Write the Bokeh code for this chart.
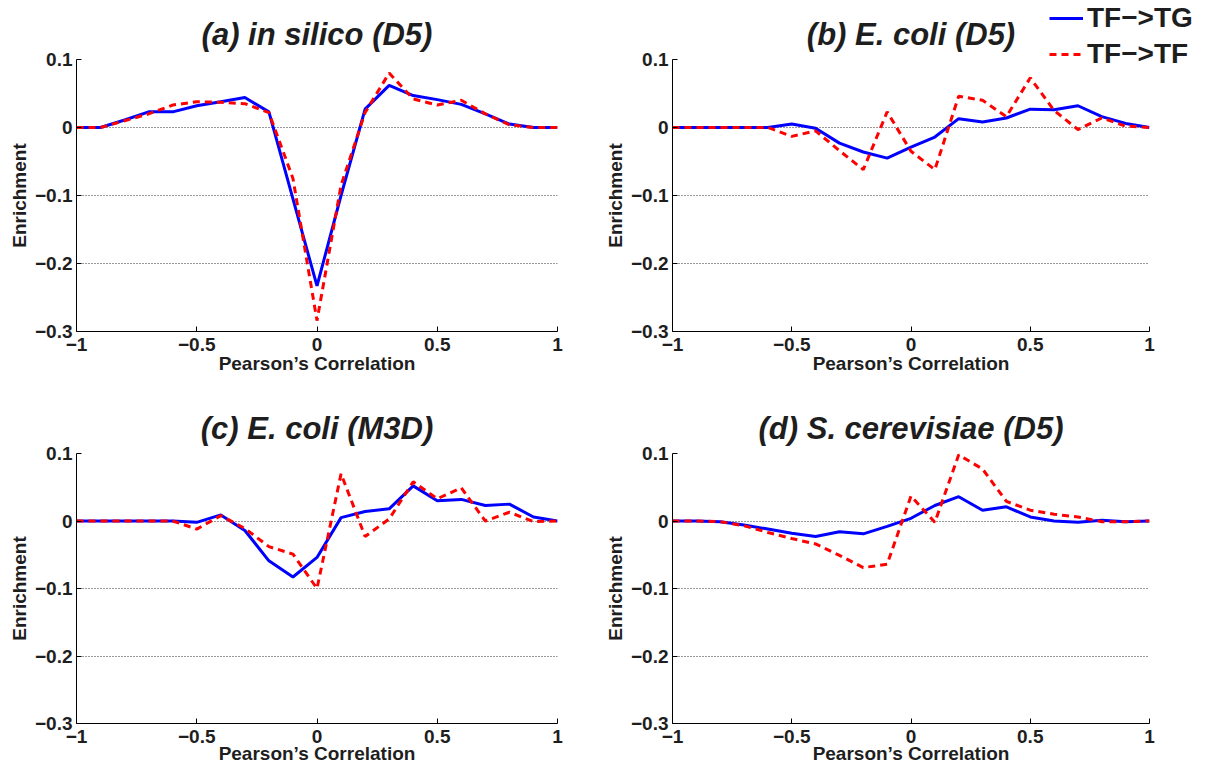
from bokeh.plotting import figure
from bokeh.layouts import column
from bokeh.models import Range1d, FixedTicker, Legend, LegendItem, GridBox
from bokeh.embed import file_html
from bokeh.resources import INLINE

# ---------------- data ----------------
corr = [-1.0, -0.9, -0.8, -0.7, -0.6, -0.5, -0.4, -0.3, -0.2, -0.1, 0.0,
        0.1, 0.2, 0.3, 0.4, 0.5, 0.6, 0.7, 0.8, 0.9, 1.0]

a_tg = [0, 0, 0.011, 0.023, 0.023, 0.032, 0.038, 0.044, 0.023, -0.105, -0.233,
        -0.100, 0.027, 0.062, 0.047, 0.041, 0.034, 0.020, 0.005, 0, 0]
a_tf = [0, 0, 0.010, 0.020, 0.033, 0.038, 0.037, 0.035, 0.022, -0.075, -0.284,
        -0.085, 0.022, 0.080, 0.042, 0.033, 0.040, 0.020, 0.004, 0, 0]

b_tg = [0, 0, 0, 0, 0, 0.005, -0.001, -0.023, -0.036, -0.045, -0.029,
        -0.014, 0.013, 0.008, 0.014, 0.027, 0.026, 0.032, 0.016, 0.006, 0]
b_tf = [0, 0, 0, 0, 0, -0.013, -0.005, -0.034, -0.062, 0.023, -0.035,
        -0.062, 0.046, 0.040, 0.016, 0.073, 0.025, -0.003, 0.014, 0.002, 0]

c_tg = [0, 0, 0, 0, 0, -0.002, 0.009, -0.014, -0.059, -0.083, -0.054,
        0.005, 0.014, 0.018, 0.052, 0.030, 0.032, 0.023, 0.025, 0.006, 0]
c_tf = [0, 0, 0, 0, 0, -0.012, 0.008, -0.011, -0.038, -0.049, -0.100,
        0.070, -0.023, 0.003, 0.058, 0.033, 0.049, 0.000, 0.013, -0.001, 0]

d_tg = [0, 0, -0.001, -0.006, -0.012, -0.018, -0.023, -0.016, -0.019, -0.008, 0.004,
        0.023, 0.036, 0.016, 0.021, 0.006, 0.000, -0.002, 0.001, -0.001, 0]
d_tf = [0, 0, -0.001, -0.007, -0.017, -0.026, -0.034, -0.051, -0.069, -0.064, 0.037,
        -0.002, 0.098, 0.077, 0.029, 0.016, 0.010, 0.006, -0.001, -0.001, 0]

titles = ["(a) in silico (D5)", "(b) E. coli (D5)",
          "(c) E. coli (M3D)", "(d) S. cerevisiae (D5)"]

x_ticks = [-1, -0.5, 0, 0.5, 1]
x_tick_labels = ["\u22121", "\u22120.5", "0", "0.5", "1"]
y_ticks = [-0.3, -0.2, -0.1, 0, 0.1]
y_tick_labels = ["\u22120.3", "\u22120.2", "\u22120.1", "0", "0.1"]

series_labels = ["TF\u2212>TG", "TF\u2212>TF"]
x_label = "Pearson\u2019s Correlation"
y_label = "Enrichment"

FONT = "Liberation Sans"
TXT = "#1e1e1e"
BLUE = "#0000ff"
RED = "#ff0000"
DASH = "7 5"


def make(title, tg, tf, width, height, bl, br, bt, bb, lab_standoff):
    p = figure(width=width, height=height, output_backend="svg",
               toolbar_location=None, x_range=Range1d(-1, 1),
               y_range=Range1d(-0.3, 0.1),
               min_border_left=bl, min_border_right=br,
               min_border_top=bt, min_border_bottom=bb, title=title)
    p.title.text_font = FONT
    p.title.text_font_size = "31px"
    p.title.text_font_style = "bold italic"
    p.title.align = "center"
    p.title.text_color = TXT
    p.title.standoff = 15

    p.outline_line_color = None
    p.background_fill_color = "white"
    p.border_fill_color = "white"

    p.xaxis.ticker = FixedTicker(ticks=x_ticks)
    p.xaxis.major_label_overrides = dict(zip(x_ticks, x_tick_labels))
    p.yaxis.ticker = FixedTicker(ticks=y_ticks)
    p.yaxis.major_label_overrides = dict(zip(y_ticks, y_tick_labels))
    for ax in (p.xaxis[0], p.yaxis[0]):
        ax.major_tick_in = 5
        ax.major_tick_out = 0
        ax.minor_tick_in = 0
        ax.minor_tick_out = 0
        ax.axis_line_color = "black"
        ax.major_tick_line_color = "black"
        ax.major_label_text_font = FONT
        ax.major_label_text_font_size = "19px"
        ax.major_label_text_font_style = "bold"
        ax.major_label_text_color = TXT
        ax.axis_label_text_font = FONT
        ax.axis_label_text_font_size = "19px"
        ax.axis_label_text_font_style = "bold"
        ax.axis_label_text_color = TXT
    p.xaxis.axis_label = x_label
    p.yaxis.axis_label = y_label
    p.xaxis.major_label_standoff = 6
    p.xaxis.axis_label_standoff = lab_standoff
    p.yaxis.major_label_standoff = 4
    p.yaxis.axis_label_standoff = 2

    p.xgrid.visible = False
    p.ygrid.ticker = FixedTicker(ticks=y_ticks)
    p.ygrid.grid_line_color = "#333333"
    p.ygrid.grid_line_dash = "1 2"
    p.ygrid.grid_line_width = 1

    p.line(corr, tg, line_color=BLUE, line_width=3)
    p.line(corr, tf, line_color=RED, line_width=3, line_dash=DASH)
    return p


pa = make(titles[0], a_tg, a_tf, 596, 401, 76, 39, 59, 70, -1)
pb = make(titles[1], b_tg, b_tf, 618, 401, 76, 65, 59, 70, -1)
pc = make(titles[2], c_tg, c_tf, 596, 365, 76, 39, 51, 43, -3)
pd = make(titles[3], d_tg, d_tf, 618, 365, 76, 65, 51, 43, -3)

# transparent overlay figure carrying the shared legend (drawn over panel b)
pl = figure(width=618, height=80, output_backend="svg", toolbar_location=None,
            x_range=Range1d(-1, 1), y_range=Range1d(5, 6),
            x_axis_location=None, y_axis_location=None, min_border=0)
pl.grid.visible = False
pl.outline_line_color = None
pl.background_fill_alpha = 0
pl.border_fill_alpha = 0
l1 = pl.line(corr, b_tg, line_color=BLUE, line_width=3)
l2 = pl.line(corr, b_tf, line_color=RED, line_width=3, line_dash=DASH)
legend = Legend(items=[LegendItem(label=series_labels[0], renderers=[l1]),
                       LegendItem(label=series_labels[1], renderers=[l2])],
                location=(453, 10), padding=0, margin=0, spacing=4,
                glyph_width=34, glyph_height=30, label_standoff=4,
                label_text_font=FONT, label_text_font_size="28px",
                label_text_font_style="bold", label_text_color=TXT,
                border_line_alpha=0, background_fill_alpha=0)
pl.add_layout(legend)
legend_box = column(pl, width=618, height=80)

layout = GridBox(children=[(pa, 0, 0), (pb, 0, 1), (pc, 1, 0), (pd, 1, 1),
                           (legend_box, 0, 1)], spacing=0)

open("out.html", "w").write(file_html(layout, INLINE))
